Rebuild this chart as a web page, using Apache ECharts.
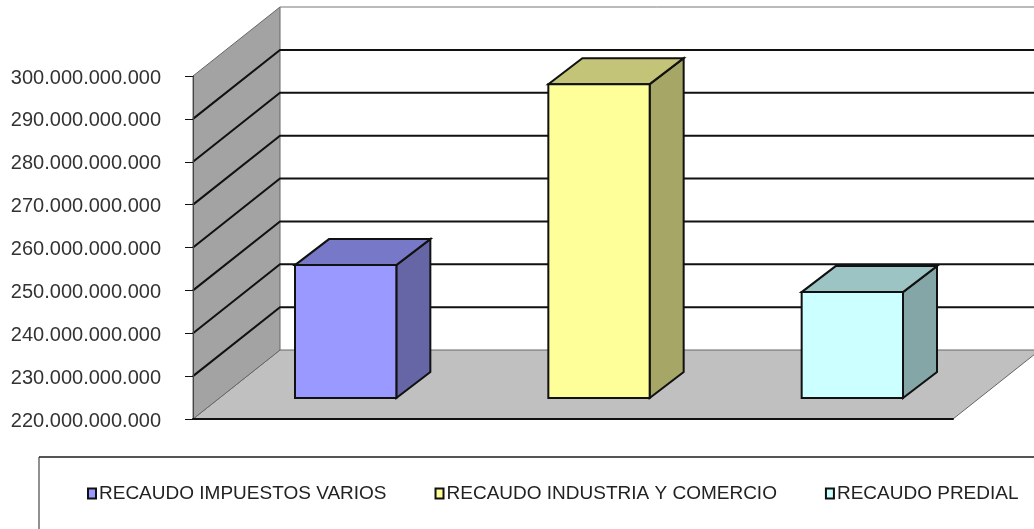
<!DOCTYPE html>
<html>
<head>
<meta charset="utf-8">
<title>Recaudo</title>
<style>
  html, body { margin: 0; padding: 0; background: #fff; }
  #chart { width: 1034px; height: 529px; }
</style>
<script src="https://cdn.jsdelivr.net/npm/echarts@6/dist/echarts.min.js"></script>
</head>
<body>
<div id="chart"></div>
<script>
'use strict';

var categories = ['RECAUDO IMPUESTOS VARIOS', 'RECAUDO INDUSTRIA Y COMERCIO', 'RECAUDO PREDIAL'];
var values = [251000000000, 293200000000, 244700000000];
var yTicks = [220000000000, 230000000000, 240000000000, 250000000000, 260000000000,
              270000000000, 280000000000, 290000000000, 300000000000];

var frontColors = ['#9999FF', '#FFFF99', '#CCFFFF'];
var topColors = ['#7878C8', '#C4C478', '#9CC4C4'];
var sideColors = ['#6666A6', '#A6A666', '#84A6A6'];

// fake 3d: how far the back wall sits from the axis, and where the bars stand
var wallDx = 87, wallDy = -69;
var barDx = 26, barDy = -21;
var depthDx = 34, depthDy = -26;

var yMin = yTicks[0];
var yMax = yTicks[yTicks.length - 1];

function moved(p, dx, dy) {
  return [p[0] + dx, p[1] + dy];
}

function poly(points, fill, stroke, width) {
  return {
    type: 'polygon',
    shape: { points: points },
    style: { fill: fill, stroke: stroke, lineWidth: width }
  };
}

// x of the plot's left edge, category axis only gives band centres
function leftEdge(api, v) {
  var p = api.coord([0, v]);
  return [p[0] - api.size([1, 0])[0] / 2, p[1]];
}

function renderWalls(params, api) {
  var band = api.size([1, 0])[0];
  var a = leftEdge(api, yMin);
  var b = leftEdge(api, yMax);
  var c = [a[0] + band * categories.length, a[1]];
  return {
    type: 'group',
    children: [
      poly([a, c, moved(c, wallDx, wallDy), moved(a, wallDx, wallDy)], '#C0C0C0', '#666', 1),
      poly([a, b, moved(b, wallDx, wallDy), moved(a, wallDx, wallDy)], '#A3A3A3', '#666', 1)
    ]
  };
}

function renderGrid(params, api) {
  var p = leftEdge(api, api.value(0));
  var back = moved(p, wallDx, wallDy);
  var isTop = api.value(0) === yMax;
  return {
    type: 'polyline',
    shape: { points: isTop ? [back, [back[0] + 800, back[1]]] : [p, back, [back[0] + 800, back[1]]] },
    style: { fill: null, stroke: isTop ? '#777' : '#111', lineWidth: isTop ? 1 : 2 }
  };
}

function renderBar(params, api) {
  var i = api.value(0);
  var half = api.size([1, 0])[0] * 0.4 / 2;
  var t = api.coord([i, api.value(1)]);
  var o = api.coord([i, yMin]);
  var tl = moved(t, barDx - half, barDy);
  var tr = moved(t, barDx + half, barDy);
  var bl = moved(o, barDx - half, barDy);
  var br = moved(o, barDx + half, barDy);
  var c = params.seriesIndex - 2;
  return {
    type: 'group',
    children: [
      poly([tr, br, moved(br, depthDx, depthDy), moved(tr, depthDx, depthDy)], sideColors[c], '#111', 2),
      poly([tl, tr, moved(tr, depthDx, depthDy), moved(tl, depthDx, depthDy)], topColors[c], '#111', 2),
      poly([tl, tr, br, bl], frontColors[c], '#111', 2)
    ]
  };
}

var series = [
  { type: 'custom', silent: true, z: 1, renderItem: renderWalls, data: [[0]] },
  { type: 'custom', silent: true, z: 1, renderItem: renderGrid, data: yTicks.slice(1).map(function (v) { return [v]; }), encode: { y: 0 } }
];
categories.forEach(function (name, i) {
  series.push({
    name: name,
    type: 'custom',
    z: 2,
    renderItem: renderBar,
    data: [[i, values[i]]],
    encode: { x: 0, y: 1 },
    itemStyle: { color: frontColors[i], borderColor: '#111', borderWidth: 2 }
  });
});

var myChart = echarts.init(document.getElementById('chart'));
var option = {
  animation: false,
  grid: { left: 193, top: 76, width: 760, height: 343 },
  legend: {
    left: 87,
    top: 484,
    padding: 0,
    itemGap: 48,
    itemWidth: 8,
    itemHeight: 10,
    selectedMode: false,
    textStyle: { fontFamily: 'Liberation Sans', fontSize: 19, color: '#222', padding: [0, 0, 0, -2] },
    data: categories.map(function (name) { return { name: name, icon: 'rect' }; })
  },
  xAxis: {
    type: 'category',
    data: categories,
    z: 5,
    axisLine: { show: true, lineStyle: { color: '#111', width: 2 } },
    axisTick: { show: false },
    axisLabel: { show: false },
    splitLine: { show: false }
  },
  yAxis: {
    type: 'value',
    min: yMin,
    max: yMax,
    interval: 10000000000,
    z: 5,
    axisLine: { show: true, lineStyle: { color: '#444', width: 1 } },
    axisTick: { show: true, length: 8, lineStyle: { color: '#111', width: 1 } },
    splitLine: { show: false },
    axisLabel: {
      margin: 32,
      fontFamily: 'Liberation Sans',
      fontSize: 20,
      color: '#333',
      verticalAlign: 'top',
      lineHeight: 4,
      formatter: function (v) {
        return String(v).replace(/\B(?=(\d{3})+$)/g, '.');
      }
    }
  },
  series: series,
  graphic: [
    { type: 'line', z: 0, shape: { x1: 39, y1: 457, x2: 1034, y2: 457 }, style: { stroke: '#555', lineWidth: 2 } },
    { type: 'line', z: 0, shape: { x1: 39, y1: 457, x2: 39, y2: 529 }, style: { stroke: '#222', lineWidth: 1 } }
  ]
};
myChart.setOption(option);
</script>
</body>
</html>
